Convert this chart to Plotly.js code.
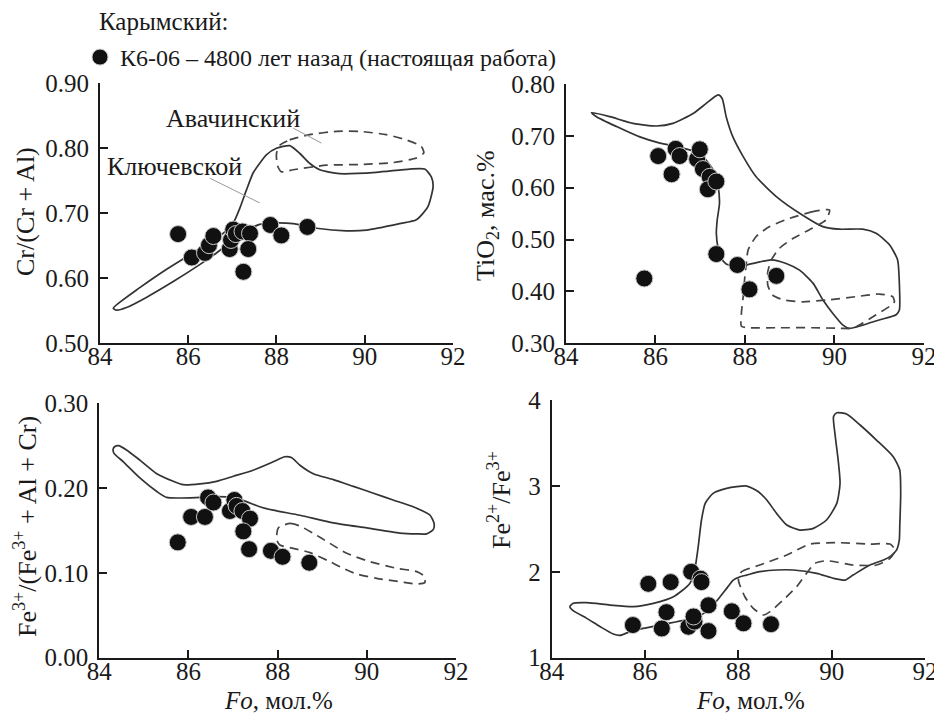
<!DOCTYPE html>
<html>
<head>
<meta charset="utf-8">
<script src="https://cdn.plot.ly/plotly-3.0.1.min.js"></script>
<style>html,body{margin:0;padding:0;background:#fff;}#chart{width:934px;height:715px;}</style>
</head>
<body>
<div id="chart"></div>
<script>
// ---- Sample K6-06 (Karymsky) points ----
const foCr = [85.77, 86.08, 86.38, 86.47, 86.57, 86.94, 86.97, 87.02, 87.08, 87.23, 87.40, 87.36, 87.25, 87.86, 88.11, 88.70];
const crRatio = [0.668, 0.632, 0.639, 0.651, 0.665, 0.645, 0.659, 0.675, 0.668, 0.672, 0.669, 0.645, 0.610, 0.682, 0.666, 0.679];

const foTi = [85.75, 86.06, 86.36, 86.45, 86.54, 86.93, 86.99, 87.06, 87.21, 87.17, 87.36, 87.36, 87.83, 88.10, 88.70];
const tio2 = [0.425, 0.661, 0.626, 0.675, 0.661, 0.655, 0.674, 0.636, 0.621, 0.597, 0.612, 0.472, 0.451, 0.404, 0.430];

const foFe3 = [85.76, 86.06, 86.37, 86.44, 86.56, 86.93, 87.03, 87.08, 87.21, 87.38, 87.23, 87.36, 87.85, 88.11, 88.71];
const fe3Ratio = [0.136, 0.166, 0.166, 0.189, 0.183, 0.173, 0.186, 0.179, 0.173, 0.164, 0.149, 0.128, 0.126, 0.119, 0.112];

const foFe2 = [85.74, 86.07, 86.36, 86.46, 86.55, 86.93, 86.99, 87.06, 87.04, 87.19, 87.21, 87.36, 87.36, 87.86, 88.11, 88.70];
const fe2Fe3 = [1.38, 1.86, 1.34, 1.53, 1.88, 1.36, 2.00, 1.42, 1.48, 1.92, 1.88, 1.61, 1.31, 1.54, 1.40, 1.39];

// ---- Klyuchevskoy field outlines (solid) ----
const klCrX = [84.30, 84.91, 85.51, 85.96, 86.42, 86.79, 87.02, 87.17, 87.32, 87.47, 87.62, 87.77, 88.00, 88.30, 88.53, 88.75, 88.98, 89.43, 90.26, 91.02, 91.36, 91.51, 91.55, 91.43, 91.17, 90.79, 90.04, 89.58, 88.91, 88.38, 87.92, 87.62, 87.32, 87.02, 86.64, 86.26, 85.66, 85.06, 84.60, 84.38, 84.30];
const klCrY = [0.554, 0.586, 0.614, 0.633, 0.652, 0.669, 0.685, 0.708, 0.736, 0.762, 0.777, 0.790, 0.800, 0.804, 0.792, 0.777, 0.767, 0.761, 0.763, 0.768, 0.768, 0.756, 0.741, 0.710, 0.690, 0.684, 0.674, 0.673, 0.677, 0.684, 0.685, 0.683, 0.673, 0.659, 0.639, 0.621, 0.595, 0.571, 0.555, 0.551, 0.554];

const klTiX = [84.57, 84.98, 85.50, 86.02, 86.39, 86.84, 87.14, 87.40, 87.49, 87.58, 87.73, 87.96, 88.25, 88.70, 89.29, 89.74, 90.11, 90.63, 90.93, 91.23, 91.41, 91.45, 91.45, 91.38, 91.00, 90.63, 90.33, 90.19, 89.96, 89.74, 89.52, 89.22, 88.92, 88.59, 88.33, 88.03, 87.81, 87.58, 87.47, 87.40, 87.36, 87.38, 87.43, 87.40, 87.29, 86.99, 86.54, 86.10, 85.65, 85.13, 84.68, 84.57];
const klTiY = [0.745, 0.737, 0.724, 0.719, 0.724, 0.743, 0.763, 0.779, 0.772, 0.737, 0.698, 0.660, 0.621, 0.583, 0.547, 0.525, 0.520, 0.520, 0.512, 0.490, 0.461, 0.416, 0.364, 0.355, 0.345, 0.335, 0.329, 0.335, 0.358, 0.384, 0.416, 0.441, 0.454, 0.461, 0.457, 0.451, 0.448, 0.453, 0.464, 0.483, 0.512, 0.538, 0.570, 0.602, 0.634, 0.666, 0.678, 0.686, 0.698, 0.718, 0.737, 0.745];

const klFe3X = [84.35, 84.43, 84.61, 84.91, 85.29, 85.66, 85.88, 86.26, 86.63, 87.01, 87.45, 87.90, 88.16, 88.31, 88.50, 88.80, 89.25, 89.70, 90.15, 90.59, 91.04, 91.42, 91.51, 91.49, 91.34, 91.12, 90.74, 90.00, 89.25, 88.50, 87.90, 87.60, 87.30, 87.01, 86.63, 86.26, 85.51, 85.29, 84.91, 84.54, 84.33, 84.31, 84.35];
const klFe3Y = [0.249, 0.250, 0.245, 0.233, 0.217, 0.208, 0.204, 0.205, 0.208, 0.214, 0.221, 0.231, 0.237, 0.236, 0.227, 0.217, 0.210, 0.202, 0.194, 0.186, 0.178, 0.168, 0.158, 0.151, 0.146, 0.146, 0.147, 0.153, 0.159, 0.168, 0.174, 0.178, 0.184, 0.189, 0.190, 0.189, 0.189, 0.196, 0.212, 0.231, 0.241, 0.246, 0.249];

const klFe2X = [84.39, 84.46, 84.75, 85.25, 85.75, 86.18, 86.61, 86.96, 87.07, 87.14, 87.21, 87.29, 87.46, 87.75, 88.18, 88.43, 88.61, 88.82, 89.04, 89.32, 89.61, 89.89, 90.11, 90.18, 90.14, 90.07, 90.04, 90.11, 90.32, 90.61, 90.96, 91.32, 91.46, 91.48, 91.46, 91.45, 91.39, 91.25, 91.11, 90.82, 90.46, 90.29, 90.04, 89.68, 89.18, 88.82, 88.46, 88.18, 88.04, 87.89, 87.75, 87.61, 87.46, 87.32, 87.04, 86.68, 86.32, 85.96, 85.68, 85.46, 85.32, 85.04, 84.75, 84.46, 84.39];
const klFe2Y = [1.594, 1.633, 1.640, 1.613, 1.594, 1.633, 1.710, 1.865, 2.040, 2.292, 2.603, 2.797, 2.913, 2.971, 2.998, 2.932, 2.835, 2.680, 2.544, 2.486, 2.506, 2.603, 2.797, 3.029, 3.301, 3.612, 3.806, 3.852, 3.837, 3.709, 3.534, 3.340, 3.185, 2.913, 2.525, 2.370, 2.253, 2.176, 2.137, 2.079, 1.962, 1.904, 1.924, 1.982, 2.021, 2.021, 2.001, 1.962, 1.943, 1.904, 1.807, 1.710, 1.613, 1.536, 1.458, 1.419, 1.380, 1.341, 1.303, 1.260, 1.276, 1.361, 1.458, 1.547, 1.594];

// ---- Avachinsky field outlines (dashed) ----
const avCrX = [88.08, 88.30, 88.75, 89.36, 89.89, 90.49, 90.94, 91.28, 91.34, 91.17, 90.64, 89.89, 89.13, 88.38, 88.11, 88.02, 88.00, 88.08];
const avCrY = [0.805, 0.813, 0.821, 0.826, 0.826, 0.821, 0.813, 0.803, 0.793, 0.785, 0.778, 0.775, 0.774, 0.767, 0.764, 0.774, 0.792, 0.805];

const avTiX = [89.89, 89.52, 89.00, 88.55, 88.25, 88.07, 88.03, 87.99, 87.96, 87.92, 87.92, 88.10, 88.77, 89.52, 90.11, 90.41, 90.63, 90.93, 91.23, 91.34, 91.30, 91.00, 90.48, 89.89, 89.29, 88.85, 88.62, 88.51, 88.51, 88.59, 88.77, 89.07, 89.44, 89.81, 89.89];
const avTiY = [0.557, 0.554, 0.541, 0.525, 0.506, 0.480, 0.454, 0.422, 0.390, 0.358, 0.333, 0.330, 0.330, 0.330, 0.329, 0.329, 0.339, 0.355, 0.371, 0.380, 0.390, 0.395, 0.390, 0.384, 0.380, 0.384, 0.393, 0.412, 0.438, 0.461, 0.483, 0.502, 0.519, 0.538, 0.557];

const avFe3X = [88.05, 88.28, 88.50, 88.80, 89.17, 89.55, 90.07, 90.67, 91.12, 91.30, 91.30, 91.12, 90.74, 90.22, 89.77, 89.47, 89.17, 88.73, 88.35, 88.05, 87.98, 87.98, 88.01, 88.05];
const avFe3Y = [0.1545, 0.1585, 0.1553, 0.1467, 0.1349, 0.1231, 0.1133, 0.1054, 0.1015, 0.0956, 0.0885, 0.0869, 0.0897, 0.0936, 0.0987, 0.1054, 0.1133, 0.1239, 0.1290, 0.1329, 0.1388, 0.1447, 0.1526, 0.1545];

const avFe2X = [88.00, 88.07, 88.46, 89.04, 89.54, 90.11, 90.82, 91.25, 91.36, 91.25, 90.96, 90.46, 89.89, 89.64, 89.46, 89.25, 88.96, 88.68, 88.54, 88.32, 88.14, 88.02, 88.00];
const avFe2Y = [1.924, 2.001, 2.079, 2.195, 2.323, 2.339, 2.323, 2.323, 2.253, 2.156, 2.079, 2.079, 2.129, 2.098, 1.982, 1.827, 1.671, 1.536, 1.497, 1.574, 1.710, 1.865, 1.924];

const foTicks = [84, 86, 88, 90, 92];
const sampleName = 'К6-06 – 4800 лет назад (настоящая работа)';

// ---- styling ----
const FONT = '"Liberation Serif", "DejaVu Serif", "Noto Serif", "Times New Roman", Tinos, serif';
const INK = '#1a1a1a';
const solid = {color: '#333', width: 1.7, shape: 'spline', smoothing: 0.6};
const dashed = {color: '#444', width: 1.7, dash: '9px,6px', shape: 'spline', smoothing: 0.6};
const marker = {size: 17, color: '#111', line: {color: '#c8c8c8', width: 1}};

function outline(x, y, line, ax) {
  return {x: x, y: y, xaxis: 'x' + ax, yaxis: 'y' + ax, mode: 'lines', line: line, showlegend: false, hoverinfo: 'skip'};
}
function pts(x, y, ax, showLeg) {
  return {x: x, y: y, xaxis: 'x' + ax, yaxis: 'y' + ax, mode: 'markers', marker: marker,
          name: sampleName, legendgroup: 'k6', showlegend: showLeg, cliponaxis: false};
}

const data = [
  outline(klCrX, klCrY, solid, ''), outline(avCrX, avCrY, dashed, ''), pts(foCr, crRatio, '', true),
  outline(klTiX, klTiY, solid, '2'), outline(avTiX, avTiY, dashed, '2'), pts(foTi, tio2, '2', false),
  outline(klFe3X, klFe3Y, solid, '3'), outline(avFe3X, avFe3Y, dashed, '3'), pts(foFe3, fe3Ratio, '3', false),
  outline(klFe2X, klFe2Y, solid, '4'), outline(avFe2X, avFe2Y, dashed, '4'), pts(foFe2, fe2Fe3, '4', false)
];

const W = 934, H = 715;
const px = v => v / W;
const py = v => 1 - v / H;

function xax(x0, x1, anchor) {
  return {domain: [px(x0), px(x1)], range: [84, 92.001], anchor: anchor, tickvals: foTicks,
          showline: true, linecolor: INK, linewidth: 2, ticks: 'inside', ticklen: 8, tickwidth: 2, tickcolor: INK,
          showgrid: false, zeroline: false, tickfont: {family: FONT, size: 25, color: INK},
          ticklabelstandoff: -10, ticklabeloverflow: 'allow'};
}
function yax(y0, y1, range, dtick, fmt, anchor) {
  return {domain: [py(y0), py(y1)], range: range, dtick: dtick, tick0: range[0], tickformat: fmt, anchor: anchor,
          showline: true, linecolor: INK, linewidth: 2, ticks: 'inside', ticklen: 8, tickwidth: 2, tickcolor: INK,
          showgrid: false, zeroline: false, tickfont: {family: FONT, size: 25, color: INK}, ticklabelstandoff: 4};
}

function txt(text, x, y, size, opts) {
  return Object.assign({text: text, x: x, y: y, xref: 'paper', yref: 'paper', showarrow: false,
    font: {family: FONT, size: size, color: INK}, xanchor: 'center', yanchor: 'middle'}, opts || {});
}

const layout = {
  width: W, height: H,
  margin: {l: 0, r: 0, t: 0, b: 0},
  paper_bgcolor: '#fff', plot_bgcolor: 'rgba(0,0,0,0)',
  font: {family: FONT, color: INK},
  xaxis: xax(100, 453, 'y'),
  yaxis: yax(343.3, 83.3, [0.5, 0.9], 0.1, '.2f', 'x'),
  xaxis2: xax(566, 924, 'y2'),
  yaxis2: yax(343.3, 84, [0.3, 0.8], 0.1, '.2f', 'x2'),
  xaxis3: xax(99.3, 456, 'y3'),
  yaxis3: yax(657.7, 403.3, [0, 0.3], 0.1, '.2f', 'x3'),
  xaxis4: xax(551.7, 925, 'y4'),
  yaxis4: yax(657.7, 400, [1, 4], 1, 'd', 'x4'),
  showlegend: true,
  legend: {x: px(80), y: py(35), xanchor: 'left', yanchor: 'top', bgcolor: 'rgba(0,0,0,0)',
           font: {family: FONT, size: 24, color: INK}, itemwidth: 30, tracegroupgap: 0},
  annotations: [
    txt('Карымский:', px(97), py(21), 25, {xanchor: 'left'}),
    txt('Cr/(Cr + Al)', px(25), py(212), 26, {textangle: -90}),
    txt('TiO<sub>2</sub>, мас.%', px(487), py(216), 26, {textangle: -90}),
    txt('Fe<sup>3+</sup>/(Fe<sup>3+</sup> + Al + Cr)', px(25), py(527), 26, {textangle: -90}),
    txt('Fe<sup>2+</sup>/Fe<sup>3+</sup>', px(499), py(500), 26, {textangle: -90}),
    txt('<i>Fo</i>, мол.%', px(278), py(700), 25),
    txt('<i>Fo</i>, мол.%', px(750), py(700), 25),
    {text: 'Авачинский', x: 87.02, y: 0.846, xref: 'x', yref: 'y', showarrow: false,
     font: {family: FONT, size: 26, color: INK}, xanchor: 'center', yanchor: 'middle'},
    {text: 'Ключевской', x: 85.68, y: 0.772, xref: 'x', yref: 'y', showarrow: false,
     font: {family: FONT, size: 26, color: INK}, xanchor: 'center', yanchor: 'middle'}
  ],
  shapes: [
    {type: 'line', xref: 'x', yref: 'y', x0: 88.38, y0: 0.831, x1: 89.02, y1: 0.808, line: {color: '#999', width: 1}},
    {type: 'line', xref: 'x', yref: 'y', x0: 86.49, y0: 0.754, x1: 87.62, y1: 0.716, line: {color: '#999', width: 1}}
  ]
};

Plotly.newPlot('chart', data, layout, {displayModeBar: false, staticPlot: true});
</script>
</body>
</html>
